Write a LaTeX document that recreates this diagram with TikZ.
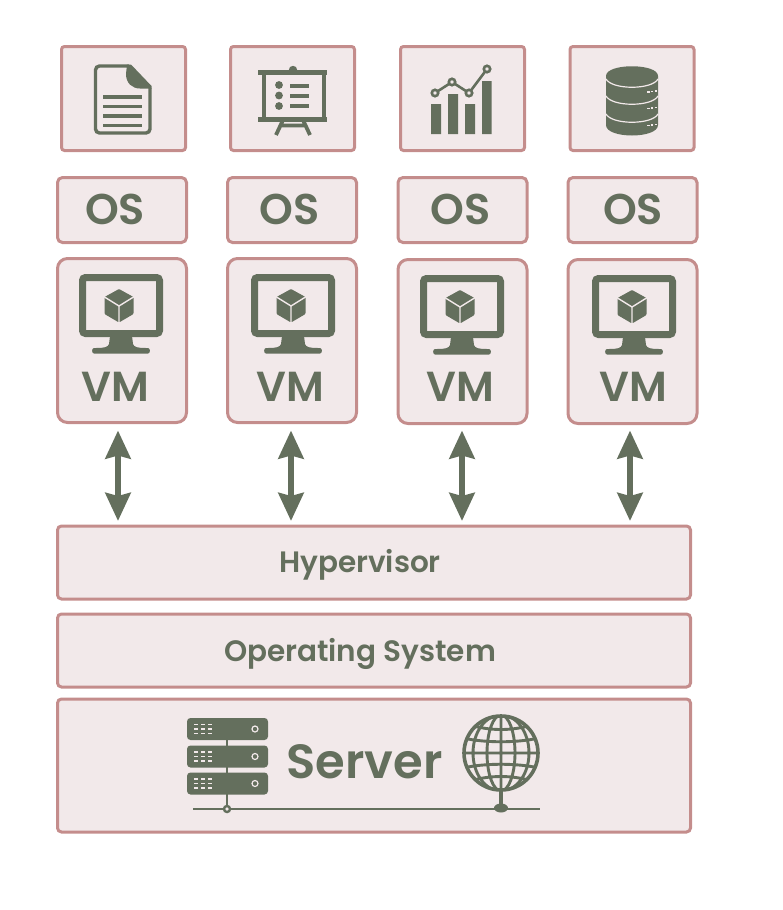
\documentclass[tikz,border=0pt]{standalone}
\usepackage{fontspec}
\setmainfont{Poppins}[BoldFont={Poppins SemiBold}]
\usetikzlibrary{arrows.meta,calc}
\definecolor{dk}{HTML}{646F5D}
\definecolor{bg}{HTML}{F2E9EA}
\definecolor{bd}{HTML}{C48D8C}
\tikzset{
  x=1pt,y=-1pt,
  box/.style={draw=bd,fill=bg,line width=3pt,inner sep=0pt,outer sep=0pt},
  appbox/.style={box,rounded corners=3pt,minimum width=124pt,minimum height=104pt},
  osbox/.style={box,rounded corners=5pt,minimum width=129pt,minimum height=65pt},
  vmbox/.style={box,rounded corners=10pt,minimum width=129pt,minimum height=164pt},
  layerbox/.style={box,rounded corners=4pt,minimum width=633pt},
  lbl/.style={text=dk,inner sep=0pt,anchor=base},
  oslbl/.style={lbl,font=\bfseries\fontsize{43}{43}\selectfont},
  vmlbl/.style={lbl,font=\bfseries\fontsize{42}{42}\selectfont},
  layerlbl/.style={lbl,font=\bfseries\fontsize{29.5}{30}\selectfont},
  dbl/.style={draw=dk,line width=6pt,{Stealth[length=28pt,width=25pt,inset=3pt]}-{Stealth[length=28pt,width=25pt,inset=3pt]}},
  monitor/.pic={
    \draw[dk,line width=7pt,rounded corners=3pt] (-38.5,3.5) rectangle (38.5,59.5);
    \fill[dk] (-11,62) -- (11,62) -- (12,70) .. controls (13,73) and (16,74) .. (25,74) -- (27,74) .. controls (29.5,74) and (29.5,79.5) .. (27,79.5) -- (-27,79.5) .. controls (-29.5,79.5) and (-29.5,74) .. (-27,74) -- (-25,74) .. controls (-16,74) and (-13,73) .. (-12,70) -- cycle;
    \fill[dk,rounded corners=1pt] (-2,15) -- (12.5,23) -- (12.5,40) -- (-2,48.5) -- (-16.5,40) -- (-16.5,23) -- cycle;
    \draw[bg,line width=1.4pt] (-16.5,23) -- (-2,32) -- (12.5,23) (-2,32) -- (-2,48.5);
  },
  rackunit/.pic={
    \fill[dk,rounded corners=3.5pt] (0,0) rectangle (81,22);
    \draw[bg,line width=1.2pt]
      (7,6.5) -- +(4,0) (14,6.5) -- +(4,0) (21,6.5) -- +(4,0)
      (7,11) -- +(4,0) (14,11) -- +(4,0) (21,11) -- +(4,0)
      (7,15.5) -- +(4,0) (14,15.5) -- +(4,0) (21,15.5) -- +(4,0);
    \draw[bg,line width=1.2pt] (68,11) circle[radius=3];
  },
}
\begin{document}
\begin{tikzpicture}
\useasboundingbox (0,0) rectangle (782,910);
% application boxes
\node[appbox] (app1) at (123.5,98.5) {};
\node[appbox] (app2) at (292.5,98.5) {};
\node[appbox] (app3) at (462.5,98.5) {};
\node[appbox] (app4) at (632,98.5) {};
% OS boxes
\node[osbox] (os1) at (122,210) {};
\node[osbox] (os2) at (292,210) {};
\node[osbox] (os3) at (462.5,210) {};
\node[osbox] (os4) at (632.5,210) {};
\node[oslbl] at (115,224.5) {OS};
\node[oslbl] at (289.5,224.5) {OS};
\node[oslbl] at (460.5,224.5) {OS};
\node[oslbl] at (633,224.5) {OS};
% VM boxes
\node[vmbox] (vm1) at (122,340.5) {};
\node[vmbox] (vm2) at (292,340.5) {};
\node[vmbox] (vm3) at (462.5,341.5) {};
\node[vmbox] (vm4) at (632.5,341.5) {};
\pic at (121,274) {monitor};
\pic at (293,274) {monitor};
\pic at (462,275) {monitor};
\pic at (634,275) {monitor};
\node[vmlbl] at (115.5,401) {VM};
\node[vmlbl] at (290,401) {VM};
\node[vmlbl] at (460,401) {VM};
\node[vmlbl] at (633,401) {VM};
% layers
\node[layerbox,minimum height=73pt] (hyp) at (374,562.5) {};
\node[layerbox,minimum height=73pt] (opsys) at (374,650.5) {};
\node[layerbox,minimum height=133pt] (srv) at (374,765.5) {};
\node[layerlbl] at (360,572) {Hypervisor};
\node[layerlbl] at (360,661) {Operating System};
\node[lbl,font=\bfseries\fontsize{48}{48}\selectfont] at (364.5,778) {Server};
% connectors
\coordinate (t1) at ([xshift=-4pt,yshift=-8pt]vm1.south);
\coordinate (t2) at ([xshift=-1pt,yshift=-8pt]vm2.south);
\coordinate (t3) at ([xshift=-0.5pt,yshift=-7pt]vm3.south);
\coordinate (t4) at ([xshift=-2.5pt,yshift=-7pt]vm4.south);
\draw[dbl,shorten >=5pt] (t1) -- (t1 |- hyp.north);
\draw[dbl,shorten >=5pt] (t2) -- (t2 |- hyp.north);
\draw[dbl,shorten >=5pt] (t3) -- (t3 |- hyp.north);
\draw[dbl,shorten >=5pt] (t4) -- (t4 |- hyp.north);
% document icon
\draw[dk,line width=3.4pt,rounded corners=4pt] (129,66) -- (95.5,66) -- (95.5,133) -- (150,133) -- (150,88);
\fill[dk] (127,64.5) -- (131,64.5) -- (151.5,86) -- (151.5,88.5) -- (140,88.5) .. controls (132,88.5) and (126,83) .. (126,74) -- cycle;
\draw[dk,line width=3.2pt] (103,97) -- (142,97) (103,106.5) -- (142,106.5) (103,116) -- (142,116) (103,125.5) -- (142,125.5);
% presentation icon
\draw[dk,line width=5pt] (258,72) -- (327,72) (258,119) -- (327,119);
\draw[dk,line width=3.8pt] (264,72) -- (264,119) (324,72) -- (324,119);
\fill[dk] (293,70) circle[radius=4.2];
\fill[dk] (279,85) circle[radius=3.9] (279,95.5) circle[radius=3.9] (279,106) circle[radius=3.9];
\draw[dk,line width=4pt] (290,85.5) -- (309,85.5) (290,95.5) -- (309,95.5) (290,105.5) -- (309,105.5);
\draw[dk,line width=3.8pt] (283,120) -- (276,135) (303,120) -- (310,135) (280,125.5) -- (306,125.5);
% chart icon
\fill[dk] (431,104) rectangle (441,134) (448,94) rectangle (458,134) (465,104) rectangle (475,134) (482,81) rectangle (491.5,134);
\draw[dk,line width=2.6pt] (435,93) -- (452,82) -- (469,93) -- (487,69);
\draw[dk,fill=bg,line width=2.6pt] (435,93) circle[radius=3.2] (452,82) circle[radius=3.2] (469,93) circle[radius=3.2] (487,69) circle[radius=3.2];
% database icon
\fill[dk] (606,76) -- (606,125) .. controls (606,139) and (658,139) .. (658,125) -- (658,76) .. controls (658,63) and (606,63) .. (606,76) -- cycle;
\draw[bg,line width=1.2pt] (606,79) .. controls (612,90) and (652,90) .. (658,79)
  (606,96) .. controls (612,107) and (652,107) .. (658,96)
  (606,114) .. controls (612,125) and (652,125) .. (658,114);
\draw[bg,line width=1.1pt] (647,92) -- (649.5,92) (651,91.5) -- (653,91.5) (654.5,91) -- (656.5,91)
  (647,108.5) -- (649.5,108.5) (651,108) -- (653,108) (654.5,107.5) -- (656.5,107.5)
  (647,125.5) -- (649.5,125.5) (651,125) -- (653,125) (654.5,124.5) -- (656.5,124.5);
% server rack icon
\draw[dk,line width=2.6pt] (227,735) -- (227,809);
\pic at (187,718) {rackunit};
\pic at (187,745.5) {rackunit};
\pic at (187,772.5) {rackunit};
\draw[dk,line width=2.8pt] (193,809) -- (540,809);
\draw[dk,fill=bg,line width=2.4pt] (227,809) circle[radius=3];
% globe icon
\draw[dk,line width=3.6pt] (501,790) -- (501,808);
\fill[dk] (501,808) ellipse[x radius=7,y radius=4.5];
\begin{scope}
\clip (501,753) circle[radius=38];
\draw[dk,line width=2.9pt] (501,715) -- (501,791)
  (501,753) ellipse[x radius=14,y radius=38]
  (501,753) ellipse[x radius=28,y radius=38]
  (463,753) -- (539,753)
  (463,738) .. controls (485,743) and (517,743) .. (539,738)
  (463,768) .. controls (485,763) and (517,763) .. (539,768)
  (470,725) .. controls (490,731) and (512,731) .. (532,725)
  (470,781) .. controls (490,775) and (512,775) .. (532,781);
\end{scope}
\draw[dk,line width=3.6pt] (501,753) circle[radius=37];
\end{tikzpicture}
\end{document}
